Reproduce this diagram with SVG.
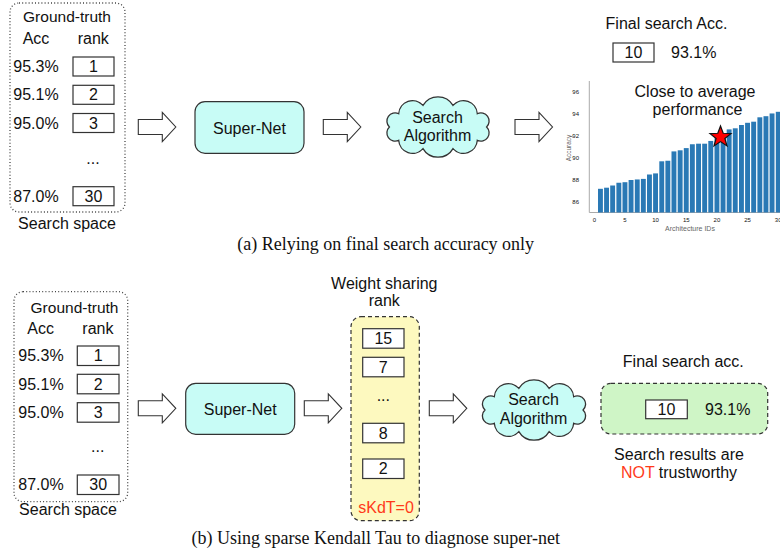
<svg xmlns="http://www.w3.org/2000/svg" xmlns:xlink="http://www.w3.org/1999/xlink" width="780" height="558" viewBox="0 0 780 558">
<style>
text{font-family:"Liberation Sans",Arial,sans-serif;fill:#111;}
.t15{font-size:15.5px;}
.t16{font-size:16px;}
.mid{text-anchor:middle;}
.cap{font-family:"Liberation Serif","Times New Roman",serif;font-size:18px;text-anchor:middle;}
.rk{fill:#fff;stroke:#333;stroke-width:1.2;}
.dot{fill:none;stroke:#444;stroke-width:1.3;stroke-dasharray:1 2.2;}
.dash{stroke:#333;stroke-width:1.2;stroke-dasharray:4 3;}
.cy{fill:#c8fcf6;stroke:#333;stroke-width:1.2;}
.arr{fill:#fff;stroke:#333;stroke-width:1.1;}
.red{fill:#ff3a1a;}
.bar{fill:#2a79b5;}
.tick{font-size:6px;fill:#666;}
.ax{stroke:#aaa;stroke-width:1;fill:none;}
</style>
<defs>
<polygon id="harrow" points="0,-7.5 24,-7.5 24,-14.5 37.5,0 24,14.5 24,7.5 0,7.5"/>
<path id="cloud" d="M 45,0 A 7.6 7.6 0 0 1 36.4,12.3 A 12.85 12.85 0 0 1 13.9,20 A 16.1 16.1 0 0 1 -13.9,20 A 12.85 12.85 0 0 1 -36.4,12.3 A 7.6 7.6 0 0 1 -45,0 A 7.6 7.6 0 0 1 -36.4,-12.3 A 12.85 12.85 0 0 1 -13.9,-20 A 16.1 16.1 0 0 1 13.9,-20 A 12.85 12.85 0 0 1 36.4,-12.3 A 7.6 7.6 0 0 1 45,0 Z"/>
</defs>

<!-- ===== Part (a) ===== -->
<g id="a-searchspace">
<rect class="dot" x="10" y="3" width="115" height="209" rx="9"/>
<text class="t15 mid" x="67" y="22">Ground-truth</text>
<text class="t16" x="22.7" y="44">Acc</text>
<text class="t16" x="77.7" y="44">rank</text>
<text class="t16" x="13.3" y="72">95.3%</text>
<rect class="rk" x="73" y="57" width="41" height="19"/>
<text class="t16 mid" x="93.5" y="72">1</text>
<text class="t16" x="13.3" y="100.3">95.1%</text>
<rect class="rk" x="73" y="85.3" width="41" height="19"/>
<text class="t16 mid" x="93.5" y="100.3">2</text>
<text class="t16" x="13.3" y="128.5">95.0%</text>
<rect class="rk" x="73" y="113.5" width="41" height="19"/>
<text class="t16 mid" x="93.5" y="128.5">3</text>
<text class="t16 mid" x="93" y="164">...</text>
<text class="t16" x="13.3" y="201.7">87.0%</text>
<rect class="rk" x="73" y="186.7" width="41" height="19"/>
<text class="t16 mid" x="93.5" y="201.7">30</text>
<text class="t16 mid" x="67" y="229">Search space</text>
</g>

<g id="a-supernet">
<rect class="cy" x="195" y="101.7" width="109" height="51.6" rx="10"/>
<text class="t16 mid" x="249.5" y="133.5">Super-Net</text>
</g>

<g id="a-search">
<use xlink:href="#cloud" class="cy" transform="translate(438,127) scale(1.08,1.08)"/>
<text class="t16 mid" x="437.5" y="122.7">Search</text>
<text class="t16 mid" x="437.5" y="141.3">Algorithm</text>
</g>

<g id="a-result">
<text class="t16 mid" x="666.5" y="29">Final search Acc.</text>
<rect class="rk" x="613" y="43" width="41" height="19"/>
<text class="t16 mid" x="633.5" y="58">10</text>
<text class="t16" x="671" y="58">93.1%</text>
</g>

<g id="a-chart">
<line class="ax" x1="589.3" y1="81" x2="589.3" y2="212.5"/>
<line class="ax" x1="589.3" y1="212.5" x2="780" y2="212.5"/>
<g class="tick" text-anchor="end">
<text x="579" y="94">96</text>
<text x="579" y="116">94</text>
<text x="579" y="138">92</text>
<text x="579" y="160">90</text>
<text x="579" y="182">88</text>
<text x="579" y="204">86</text>
</g>
<g class="tick" text-anchor="middle">
<text x="594.3" y="222">0</text>
<text x="625" y="222">5</text>
<text x="655.6" y="222">10</text>
<text x="686.3" y="222">15</text>
<text x="716.9" y="222">20</text>
<text x="747.6" y="222">25</text>
<text x="778.2" y="222">30</text>
</g>
<text class="tick" style="font-size:6.5px" text-anchor="middle" transform="translate(571,148) rotate(-90)">Accuracy</text>
<text class="tick" style="font-size:7px" x="690" y="231" text-anchor="middle">Architecture IDs</text>
<g class="bar">
<rect x="598.0" y="188.8" width="4.9" height="23.7"/>
<rect x="604.1" y="187.7" width="4.9" height="24.8"/>
<rect x="610.2" y="185.5" width="4.9" height="27"/>
<rect x="616.4" y="182.75" width="4.9" height="29.75"/>
<rect x="622.5" y="182.2" width="4.9" height="30.3"/>
<rect x="628.6" y="180" width="4.9" height="32.5"/>
<rect x="634.8" y="179.45" width="4.9" height="33.05"/>
<rect x="640.9" y="178.9" width="4.9" height="33.6"/>
<rect x="647.0" y="174.5" width="4.9" height="38"/>
<rect x="653.1" y="173.4" width="4.9" height="39.1"/>
<rect x="659.3" y="161.3" width="4.9" height="51.2"/>
<rect x="665.4" y="160.75" width="4.9" height="51.75"/>
<rect x="671.5" y="151.4" width="4.9" height="61.1"/>
<rect x="677.7" y="150.3" width="4.9" height="62.2"/>
<rect x="683.8" y="148.1" width="4.9" height="64.4"/>
<rect x="689.9" y="144.25" width="4.9" height="68.25"/>
<rect x="696.1" y="143.7" width="4.9" height="68.8"/>
<rect x="702.2" y="143.7" width="4.9" height="68.8"/>
<rect x="708.3" y="140.95" width="4.9" height="71.55"/>
<rect x="714.5" y="138.2" width="4.9" height="74.3"/>
<rect x="720.6" y="136" width="4.9" height="76.5"/>
<rect x="726.7" y="129.4" width="4.9" height="83.1"/>
<rect x="732.8" y="128.3" width="4.9" height="84.2"/>
<rect x="739.0" y="125" width="4.9" height="87.5"/>
<rect x="745.1" y="122.8" width="4.9" height="89.7"/>
<rect x="751.2" y="121.7" width="4.9" height="90.8"/>
<rect x="757.4" y="117.3" width="4.9" height="95.2"/>
<rect x="763.5" y="116.2" width="4.9" height="96.3"/>
<rect x="769.6" y="113.45" width="4.9" height="99.05"/>
<rect x="775.8" y="111.8" width="4.9" height="100.7"/>
</g>
<polygon transform="translate(720.5,137) scale(1.1)" fill="#ff0000" stroke="#111" stroke-width="1.1" points="0,-10 2.47,-3.4 9.51,-3.09 3.99,1.3 5.88,8.09 0,4.2 -5.88,8.09 -3.99,1.3 -9.51,-3.09 -2.47,-3.4"/>
<text class="t16 mid" x="695" y="97">Close to average</text>
<text class="t16 mid" x="697.5" y="114.5">performance</text>
</g>

<text class="cap" x="385.7" y="249.5">(a) Relying on final search accuracy only</text>

<!-- ===== Part (b) ===== -->
<g id="b-searchspace">
<rect class="dot" x="14" y="291.7" width="113.7" height="210" rx="9"/>
<text class="t15 mid" x="74.5" y="312.5">Ground-truth</text>
<text class="t16" x="27.3" y="333.5">Acc</text>
<text class="t16" x="82.3" y="333.5">rank</text>
<text class="t16" x="18.3" y="361.3">95.3%</text>
<rect class="rk" x="77.3" y="346" width="41.7" height="19.5"/>
<text class="t16 mid" x="98.2" y="361.3">1</text>
<text class="t16" x="18.3" y="389.6">95.1%</text>
<rect class="rk" x="77.3" y="374.3" width="41.7" height="19.5"/>
<text class="t16 mid" x="98.2" y="389.6">2</text>
<text class="t16" x="18.3" y="418">95.0%</text>
<rect class="rk" x="77.3" y="402.7" width="41.7" height="19.5"/>
<text class="t16 mid" x="98.2" y="418">3</text>
<text class="t16 mid" x="97.7" y="452">...</text>
<text class="t16" x="18.3" y="490.3">87.0%</text>
<rect class="rk" x="77.3" y="475" width="41.7" height="19.5"/>
<text class="t16 mid" x="98.2" y="490.3">30</text>
<text class="t16 mid" x="68" y="515">Search space</text>
</g>

<g id="b-supernet">
<rect class="cy" x="185.7" y="383.3" width="109" height="51" rx="10"/>
<text class="t16 mid" x="240.2" y="414.5">Super-Net</text>
</g>

<g id="b-wsrank">
<text class="t16 mid" x="384.3" y="288.5">Weight sharing</text>
<text class="t16 mid" x="384.3" y="305.5">rank</text>
<rect class="dash" fill="#fdf9bf" x="351" y="316.7" width="68.3" height="204" rx="10"/>
<rect class="rk" x="362.7" y="328.7" width="41.3" height="19.5"/>
<text class="t16 mid" x="383.3" y="344">15</text>
<rect class="rk" x="362.7" y="357.3" width="41.3" height="19.5"/>
<text class="t16 mid" x="383.3" y="372.6">7</text>
<text class="t16 mid" x="383.3" y="401">...</text>
<rect class="rk" x="362.7" y="423.3" width="41.3" height="19.5"/>
<text class="t16 mid" x="383.3" y="438.6">8</text>
<rect class="rk" x="362.7" y="459" width="41.3" height="19.5"/>
<text class="t16 mid" x="383.3" y="474.3">2</text>
<text class="t16 mid red" x="386" y="512.7">sKdT=0</text>
</g>

<g id="b-search">
<use xlink:href="#cloud" class="cy" transform="translate(534,410) scale(1.09,1.08)"/>
<text class="t16 mid" x="533.5" y="405">Search</text>
<text class="t16 mid" x="533.5" y="423.5">Algorithm</text>
</g>

<g id="b-result">
<text class="t16 mid" x="683.3" y="367.3">Final search acc.</text>
<rect class="dash" fill="#cff5c6" x="601" y="383.3" width="166.7" height="50.7" rx="10"/>
<rect class="rk" x="645.7" y="400" width="41.6" height="18.7"/>
<text class="t16 mid" x="666.5" y="415">10</text>
<text class="t16" x="705" y="415.3">93.1%</text>
<text class="t16 mid" x="679" y="460">Search results are</text>
<text class="t16 mid" x="679" y="478.3"><tspan class="red">NOT</tspan> trustworthy</text>
</g>

<text class="cap" x="375.7" y="543.5">(b) Using sparse Kendall Tau to diagnose super-net</text>

<!-- ===== Connectors ===== -->
<g id="connectors" class="arr">
<use xlink:href="#harrow" transform="translate(138.3,127)"/>
<use xlink:href="#harrow" transform="translate(323.3,127)"/>
<use xlink:href="#harrow" transform="translate(515,127)"/>
<use xlink:href="#harrow" transform="translate(138.3,408.3)"/>
<use xlink:href="#harrow" transform="translate(304.3,408.3)"/>
<use xlink:href="#harrow" transform="translate(429.3,408.3)"/>
</g>
</svg>
